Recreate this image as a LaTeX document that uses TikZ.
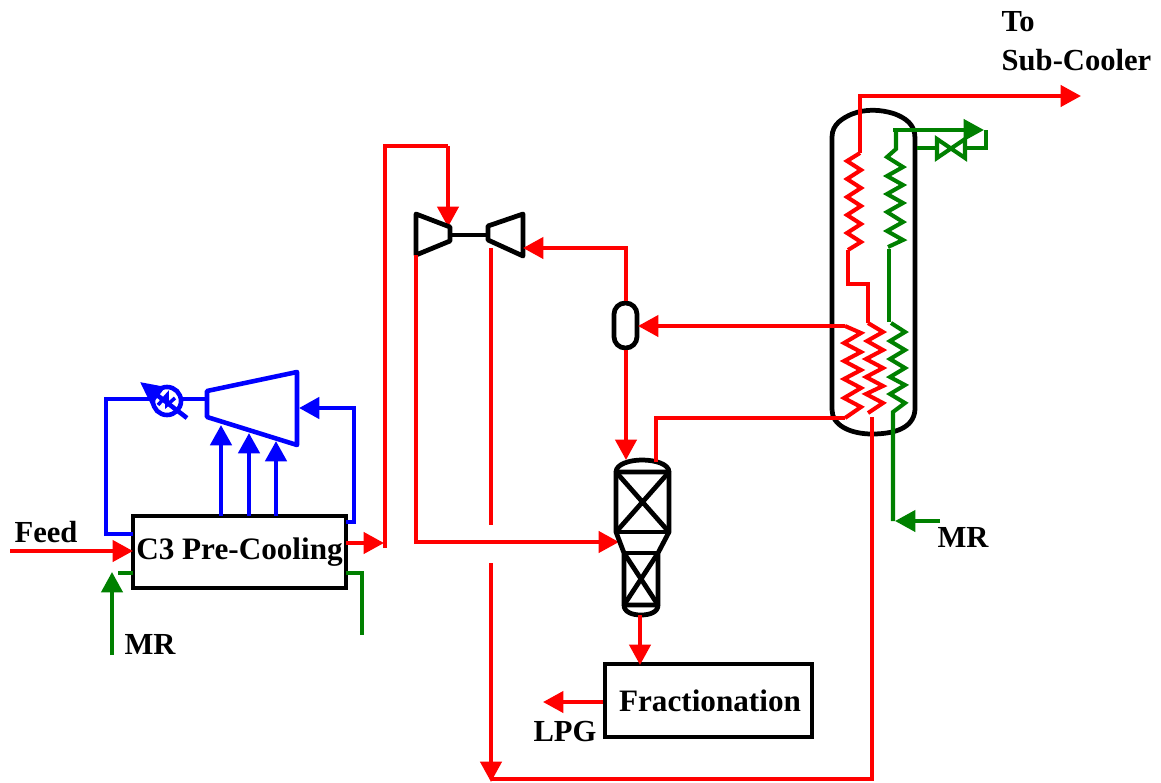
\documentclass[tikz,border=0pt]{standalone}
\usepackage{fontspec}
\setmainfont{Liberation Serif}
\usetikzlibrary{arrows.meta}
\definecolor{mrgreen}{RGB}{0,128,0}
\tikzset{
redline/.style={draw=red,line width=1.15pt},
greenline/.style={draw=mrgreen,line width=1.15pt},
blueline/.style={draw=blue,line width=1.3pt},
blackline/.style={draw=black,line width=1.35pt,line join=round},
tip/.style={-{Triangle[length=5.8pt,width=6pt]}},
label/.style={font=\fontsize{8.7pt}{10pt}\selectfont\bfseries,inner sep=0pt},
unitbox/.style={draw=black,line width=1.25pt,inner sep=0pt,minimum width=2.13cm,minimum height=0.72cm,font=\fontsize{8.87pt}{10pt}\selectfont\bfseries},
}

\begin{document}
\begin{tikzpicture}[x=0.01cm,y=-0.01cm]
\useasboundingbox (0,0) rectangle (1161,782);

% units
\node[unitbox] (precool) at (239.5,552) {C3 Pre-Cooling};
\node[unitbox,minimum width=2.07cm,minimum height=0.73cm] (fract) at (708.5,700.5) {};
\node[label,font=\fontsize{8.87pt}{10pt}\selectfont\bfseries] (fracttext) at (710,701) {Fractionation};
\node[draw=black,line width=1.35pt,rounded corners=3.2pt,inner sep=0pt,minimum width=0.23cm,minimum height=0.45cm] (drum) at (625.5,325.5) {};
\node[circle,draw=blue,line width=1.3pt,inner sep=0pt,minimum size=0.28cm] (cooler) at (167,401) {};

% text
\node[label] (feedtext) at (46,532) {Feed};
\node[label] (mrone) at (150,644) {MR};
\node[label] (mrtwo) at (963,537) {MR};
\node[label] (lpg) at (565,732) {LPG};
\node[label,anchor=west] (to) at (1001,21.5) {To};
\node[label,anchor=west] (subcool) at (1001,60) {Sub-Cooler};

% propane compressor
\coordinate (c1) at (207,391);
\coordinate (c2) at (297,372);
\coordinate (c3) at (297,445);
\coordinate (c4) at (207,417);
\draw[blueline,line join=round] (c1) -- (c2) -- (c3) -- (c4) -- cycle;
\coordinate (cout) at (207,399);
\coordinate (cleft) at (106,399);
\coordinate (pcleft) at (133,534);
\draw[blueline] (cout) -- (cooler.east|-cout);
\draw[blueline] (cooler.west|-cout) -- (cleft) -- (pcleft-|cleft) -- (pcleft);
\coordinate (ctail) at (187,418);
\coordinate (chead) at (140,382);
\draw[blueline,-{Triangle[length=6.6pt,width=6.2pt]}] (ctail) -- (chead);
\draw[blueline,line width=1pt] (158,405) -- (167,395) -- (167,405) -- (175,398);
\foreach \x/\y in {221/425,249/433,276/441}
\draw[blueline,tip] (\x,516) -- (\x,\y);
\coordinate (pcright) at (346,522);
\coordinate (cin) at (299,408);
\draw[blueline,tip] (pcright) -- (354,522) -- (354,408) -- (cin);

% feed
\coordinate (feedin) at (10,551);
\draw[redline,tip] (feedin) -- (133,551);
\coordinate (pcout) at (346,543);
\coordinate (riser) at (385,548);
\draw[redline,tip] (pcout) -- (384,543);
\draw[redline] (riser) -- (385,146) -- (448,146);
\coordinate (expin) at (448,146);
\coordinate (expinb) at (448,227);
\draw[redline,tip] (expin) -- (expinb);

% mixed refrigerant at pre-cooling
\coordinate (mrin) at (112,655);
\draw[greenline,tip] (mrin) -- (112,572);
\coordinate (pcgl) at (133,573);
\coordinate (pcgr) at (346,573);
\draw[greenline] (pcgl) -- (118,573);
\draw[greenline] (pcgr) -- (362,573) -- (362,635);

% expander and compressor
\draw[blackline] (416,214) -- (450,227) -- (450,241) -- (416,255) -- cycle;
\draw[blackline] (523,214) -- (488,226) -- (488,240) -- (523,256) -- cycle;
\coordinate (shafta) at (450,235);
\coordinate (shaftb) at (488,235);
\draw[blackline] (shafta) -- (shaftb);
\coordinate (expout) at (416,255);
\coordinate (colin) at (619,542);
\draw[redline,tip] (expout) -- (416,542) -- (colin);
\coordinate (compin) at (523,248);
\draw[redline,tip] (drum.north-|626,300) -- (626,248) -- (compin);
\coordinate (compout) at (491,248);
\coordinate (compgap) at (491,525);
\draw[redline] (compout) -- (compgap);
\coordinate (retbot) at (491,563);
\coordinate (rettip) at (491,782);
\draw[redline,tip] (retbot) -- (rettip);

% scrub column
\draw[blackline] (616,472) -- (616,532) -- (624,553) -- (624,605) -- (658,605) -- (658,553) -- (669,532) -- (669,472) -- cycle;
\draw[blackline] (616,532) -- (669,532) (624,553) -- (658,553);
\draw[blackline] (616,472) -- (669,532) (669,472) -- (616,532);
\draw[blackline] (624,553) -- (658,605) (658,553) -- (624,605);
\draw[blackline] (616,472) .. controls (616,464) and (630,460) .. (642,460) .. controls (655,460) and (669,464) .. (669,472);
\draw[blackline] (624,605) .. controls (624,612) and (632,615) .. (641,615) .. controls (650,615) and (658,612) .. (658,605);
\coordinate (coltop) at (656,462);
\coordinate (colbot) at (640,615);
\coordinate (fracttop) at (640,665);
\draw[redline,tip] (colbot) -- (fracttop);
\draw[redline,tip] (drum.south-|626,300) -- (626,460);
\draw[redline,tip] (fract.west|-0,702) -- (543,702);

% main heat exchanger shell
\coordinate (shella) at (832,410);
\coordinate (shellb) at (915,138);
\draw[blackline] (shella) -- (832,137) .. controls (832,124) and (843,118) .. (852,114) .. controls (865,109) and (880,109) .. (895,114) .. controls (905,118) and (915,124) .. (915,138);
\draw[blackline] (915,138) -- (915,408) .. controls (915,425) and (900,434) .. (872,434) .. controls (850,434) and (832,425) .. (832,410);

% warm bundle
\coordinate (wa) at (656,418);
\coordinate (wb) at (845,418);
\draw[redline] (coltop) -- (wa) -- (wb);
\draw[redline] (wb) -- (861,407) -- (844,398) -- (861,388) -- (844,379) -- (861,370) -- (844,361) -- (861,352) -- (844,343) -- (861,333) -- (845,326);
\coordinate (wc) at (845,326);
\coordinate (drumin) at (638,326);
\draw[redline,tip] (wc) -- (drumin);

\coordinate (ma) at (868,323);
\coordinate (mb) at (868,413);
\draw[redline] (ma) -- (883,332) -- (867,341) -- (883,350) -- (866,359) -- (883,368) -- (866,377) -- (883,386) -- (866,394) -- (883,403) -- (mb);
\coordinate (retout) at (872,417);
\draw[redline] (retout) -- (872,779) -- (491,779);
\draw[redline] (ma) -- (868,284) -- (848,284) -- (848,250);

% cold bundle
\coordinate (cb) at (848,250);
\coordinate (ct) at (860,153);
\draw[redline] (cb) -- (861,242) -- (847,233) -- (861,224) -- (847,215) -- (861,206) -- (847,197) -- (861,188) -- (847,179) -- (861,170) -- (847,161) -- (ct);
\coordinate (prodtip) at (1081,96);
\draw[redline,tip] (ct) -- (860,96) -- (prodtip);

% green bundles
\coordinate (ga) at (893,521);
\coordinate (gb) at (893,412);
\coordinate (mrarrow) at (940,521);
\draw[greenline,tip] (mrarrow) -- (895,521);
\draw[greenline] (ga) -- (gb) -- (905,403) -- (890,394) -- (905,385) -- (890,377) -- (905,368) -- (890,359) -- (905,350) -- (890,341) -- (905,332) -- (891,323);
\coordinate (gc) at (889,322);
\coordinate (gd) at (889,249);
\draw[greenline] (gc) -- (gd);
\coordinate (ge) at (888,247);
\coordinate (gf) at (896,149);
\draw[greenline] (ge) -- (903,240) -- (887,231) -- (903,222) -- (887,212) -- (903,203) -- (887,194) -- (903,185) -- (887,176) -- (903,167) -- (887,157) -- (gf) -- (896,130);
\coordinate (gg) at (893,130);
\coordinate (gh) at (984,130);
\draw[greenline,tip] (gg) -- (gh);

% valve
\coordinate (va) at (917,148);
\coordinate (vb) at (937,148);
\coordinate (vc) at (965,148);
\coordinate (vd) at (986,148);
\draw[greenline] (va) -- (vb);
\draw[greenline] (937,139) -- (965,158) -- (965,139) -- (937,158) -- cycle;
\draw[greenline] (vc) -- (vd) -- (986,130);
\end{tikzpicture}
\end{document}
